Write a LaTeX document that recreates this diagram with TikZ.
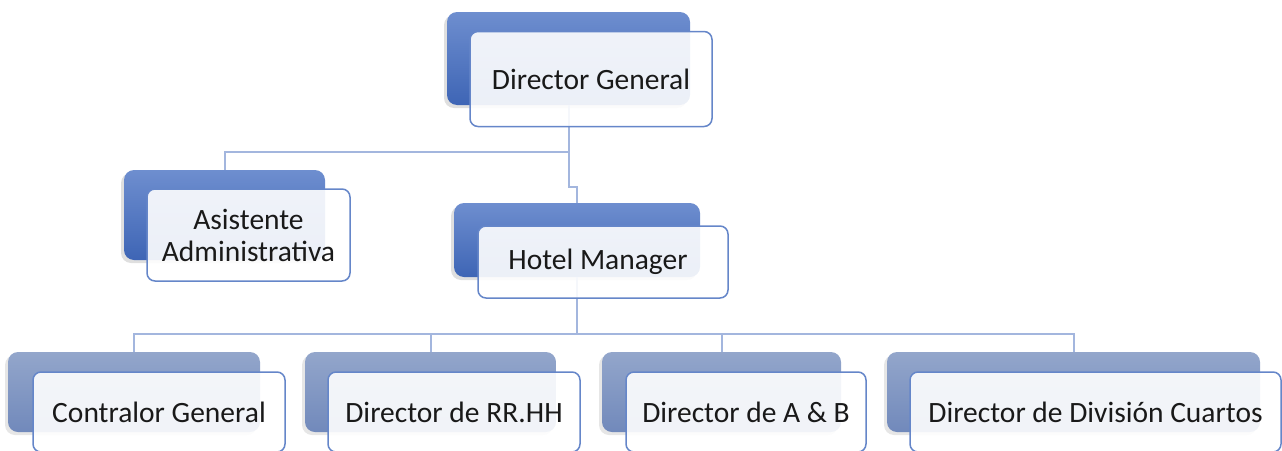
\documentclass[tikz,border=0pt]{standalone}
\usepackage{fontspec}
\setmainfont{Carlito}
\usetikzlibrary{shadows}
\definecolor{backtopA}{HTML}{6E8ECF}
\definecolor{backbotA}{HTML}{3E65B5}
\definecolor{backtopB}{HTML}{93A6CB}
\definecolor{backbotB}{HTML}{7189BB}
\definecolor{frontline}{HTML}{6586C9}
\definecolor{connline}{HTML}{A3B6DE}
\tikzset{
  backA/.style={draw=none, rounded corners=10pt, inner sep=0pt, top color=backtopA, bottom color=backbotA,
    drop shadow={shadow xshift=-3pt, shadow yshift=-3pt, opacity=0.25}},
  backB/.style={draw=none, rounded corners=10pt, inner sep=0pt, top color=backtopB, bottom color=backbotB,
    drop shadow={shadow xshift=-3pt, shadow yshift=-3pt, opacity=0.2}},
  front/.style={draw=frontline, line width=1.5pt, rounded corners=8pt, inner sep=0pt, fill=white, fill opacity=0.9,
    text opacity=1, align=center, font=\fontsize{29.5}{32}\selectfont, text=black!90},
  conn/.style={draw=connline, line width=2pt},
}
\begin{document}
\begin{tikzpicture}[x=1pt,y=-1pt]
\useasboundingbox (0,0) rectangle (1282,450);
% back boxes
\node[backA, minimum width=243pt, minimum height=93pt] (dgb) at (568.5,58.5) {};
\node[backA, minimum width=201pt, minimum height=90pt] (asb) at (224.5,215) {};
\node[backA, minimum width=246pt, minimum height=74pt] (hmb) at (577,240) {};
\node[backB, minimum width=252pt, minimum height=80pt] (b1b) at (134,392) {};
\node[backB, minimum width=251pt, minimum height=80pt] (b2b) at (430.5,392) {};
\node[backB, minimum width=239pt, minimum height=80pt] (b3b) at (721.5,392) {};
\node[backB, minimum width=373pt, minimum height=80pt] (b4b) at (1073.5,392) {};
% connectors
\draw[conn] (dgb.south) -- (dgb.south |- 0,152) -| (asb.north);
\draw[conn] (dgb.south) -- (dgb.south |- 0,187) -| (hmb.north);
\draw[conn] (hmb.south) -- (hmb.south |- 0,334) -| (b1b.north);
\draw[conn] (hmb.south) -- (hmb.south |- 0,334) -| (b2b.north);
\draw[conn] (hmb.south) -- (hmb.south |- 0,334) -| (b3b.north);
\draw[conn] (hmb.south) -- (hmb.south |- 0,334) -| (b4b.north);
% front boxes
\node[front, minimum width=242pt, minimum height=95pt] (dg) at (591,79) {Director General};
\node[front, minimum width=203pt, minimum height=92pt] (as) at (248.5,235) {Asistente\\Administrativa};
\node[front, minimum width=250pt, minimum height=72pt] (hm) at (603,262) {Hotel Manager\hspace*{10pt}};
\node[front, minimum width=252pt, minimum height=80pt] (b1) at (159,412) {Contralor General};
\node[front, minimum width=252pt, minimum height=80pt] (b2) at (454,412) {Director de RR.HH};
\node[front, minimum width=240pt, minimum height=80pt] (b3) at (746,412) {Director de A \& B};
\node[front, minimum width=371pt, minimum height=80pt] (b4) at (1095.5,412) {Director de División Cuartos};
\end{tikzpicture}
\end{document}
